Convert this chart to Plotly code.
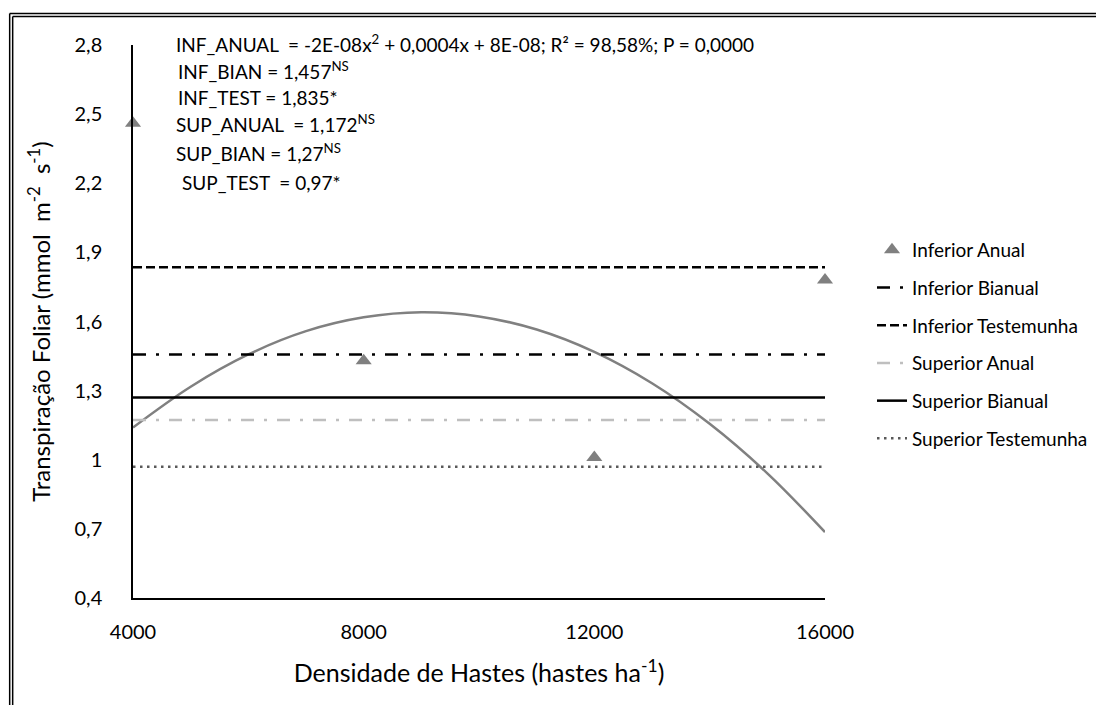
import plotly.graph_objects as go

# ---------------- data ----------------
densidade = [4000, 8000, 12000, 16000]
inferior_anual = [2.46, 1.43, 1.01, 1.78]

curva_x = [4000, 5000, 6000, 7000, 8000, 9000, 10000, 11000, 12000, 13000, 14000, 15000, 16000]
curva_y = [1.14, 1.317, 1.457, 1.558, 1.618, 1.64, 1.622, 1.565, 1.468, 1.332, 1.156, 0.941, 0.686]

inferior_bianual = 1.457
inferior_testemunha = 1.835
superior_anual = 1.172
superior_bianual = 1.27
superior_testemunha = 0.97

y_ticks = [0.4, 0.7, 1.0, 1.3, 1.6, 1.9, 2.2, 2.5, 2.8]
y_ticktext = ["0,4", "0,7", "1", "1,3", "1,6", "1,9", "2,2", "2,5", "2,8"]
x_ticks = [4000, 8000, 12000, 16000]
x_ticktext = ["4000", "8000", "12000", "16000"]

equacoes = [
    "INF_ANUAL  = -2E-08x<sup>2</sup> + 0,0004x + 8E-08; R² = 98,58%; P = 0,0000",
    "INF_BIAN = 1,457<sup>NS</sup>",
    "INF_TEST = 1,835*",
    "SUP_ANUAL  = 1,172<sup>NS</sup>",
    "SUP_BIAN = 1,27<sup>NS</sup>",
    "SUP_TEST  = 0,97*",
]

# ---------------- layout geometry (pixels, page coords) ----------------
OFF = 8  # default body margin of the page
W, H = 1104 - OFF, 705 - OFF
PL, PR, PT, PB = 133 - OFF, 826 - OFF, 45 - OFF, 598 - OFF  # plot area edges in figure coords
pw, ph = PR - PL, PB - PT


def px_x(x):  # page pixel -> paper
    return (x - OFF - PL) / pw


def px_y(y):
    return (PB - (y - OFF)) / ph


FONT = "Lato"
xr = [densidade[0], densidade[-1]]

fig = go.Figure()

# trendline (not in legend)
fig.add_trace(go.Scatter(x=curva_x, y=curva_y, mode="lines", line=dict(color="#808080", width=2.5, shape="spline"),
                         showlegend=False, hoverinfo="skip"))

fig.add_trace(go.Scatter(x=densidade, y=inferior_anual, mode="markers", name="Inferior Anual", cliponaxis=False,
                         marker=dict(symbol="triangle-up", size=14, color="#808080"), legendgroup="a"))
fig.add_trace(go.Scatter(x=xr, y=[inferior_bianual] * 2, mode="lines", name="Inferior Bianual",
                         line=dict(color="black", width=2.5, dash="13px,10px,3px,10px"), legendgroup="b"))
fig.add_trace(go.Scatter(x=xr, y=[inferior_testemunha] * 2, mode="lines", name="Inferior Testemunha",
                         line=dict(color="black", width=2.5, dash="9px,4px"), legendgroup="c"))
fig.add_trace(go.Scatter(x=xr, y=[superior_anual] * 2, mode="lines", name="Superior Anual",
                         line=dict(color="#BFBFBF", width=2.5, dash="13px,10px,3px,10px"), legendgroup="d"))
fig.add_trace(go.Scatter(x=xr, y=[superior_bianual] * 2, mode="lines", name="Superior Bianual",
                         line=dict(color="black", width=2.5), legendgroup="e"))
fig.add_trace(go.Scatter(x=xr, y=[superior_testemunha] * 2, mode="lines", name="Superior Testemunha",
                         line=dict(color="#595959", width=2.5, dash="2.5px,4.5px"), legendgroup="f"))

# equation annotations
ann_pos = [(174, 44), (176, 70), (176, 97), (174, 123), (174, 152), (180, 182)]
annotations = []
for txt, (ax, ay) in zip(equacoes, ann_pos):
    annotations.append(dict(text=txt, x=px_x(ax), y=px_y(ay), xref="paper", yref="paper",
                            xanchor="left", yanchor="middle", showarrow=False,
                            font=dict(family=FONT, size=19, color="black")))

# double frame around the chart
shapes = []
for off in (9.5, 12.5):
    shapes.append(dict(type="line", xref="paper", yref="paper", x0=px_x(off), x1=px_x(1130),
                       y0=px_y(off + 4), y1=px_y(off + 4), line=dict(color="black", width=1.5)))
    shapes.append(dict(type="line", xref="paper", yref="paper", x0=px_x(off), x1=px_x(off),
                       y0=px_y(off + 4), y1=px_y(730), line=dict(color="black", width=1.5)))

fig.update_layout(
    width=W, height=H,
    margin=dict(l=PL, r=W - PR, t=PT, b=H - PB, pad=0),
    paper_bgcolor="white", plot_bgcolor="white",
    font=dict(family=FONT, color="black"),
    showlegend=True,
    legend=dict(x=px_x(872), y=px_y(231), xanchor="left", yanchor="top",
                font=dict(family=FONT, size=19, color="black"), tracegroupgap=10,
                traceorder="grouped", bgcolor="rgba(0,0,0,0)"),
    annotations=annotations,
    shapes=shapes,
    xaxis=dict(range=xr, tickvals=x_ticks, ticktext=x_ticktext, showgrid=False, zeroline=False,
               showline=True, linecolor="black", linewidth=1.5, ticks="outside", ticklen=15,
               tickcolor="rgba(0,0,0,0)", tickfont=dict(family=FONT, size=20),
               title=dict(text="Densidade de Hastes (hastes ha<sup>-1</sup>)", font=dict(family=FONT, size=25),
                          standoff=23)),
    yaxis=dict(range=[0.4, 2.8], tickvals=y_ticks, ticktext=y_ticktext, showgrid=False, zeroline=False,
               showline=True, linecolor="black", linewidth=1.5, ticks="outside", ticklen=25,
               tickcolor="rgba(0,0,0,0)", tickfont=dict(family=FONT, size=20),
               title=dict(text="Transpiração Foliar (mmol  m<sup>-2</sup>  s<sup>-1</sup>)",
                          font=dict(family=FONT, size=24), standoff=17)),
)

fig.write_html("out.html")
